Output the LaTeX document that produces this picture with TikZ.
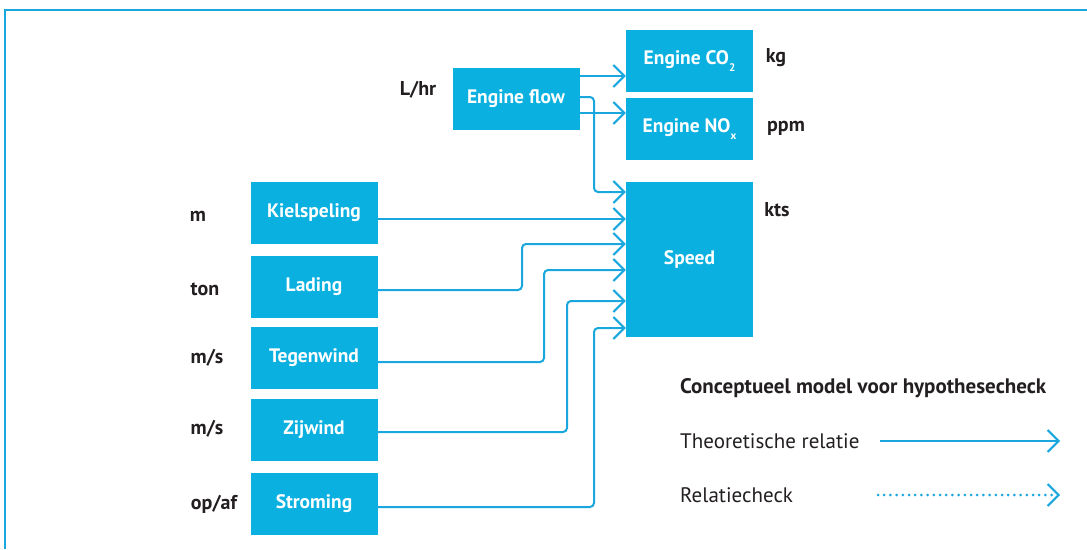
\documentclass[tikz,border=0pt]{standalone}
\usepackage{fontspec}
\setmainfont{PT Sans}
\usetikzlibrary{arrows.meta}
\definecolor{boxblue}{HTML}{0AB0E0}
\definecolor{lineblue}{HTML}{1AA7DE}
\definecolor{txt}{HTML}{231F20}
\newcommand{\lowsub}[1]{\raisebox{-0.35em}{\fontsize{11}{12}\selectfont #1}}
\tikzset{
  box/.style={fill=boxblue, minimum width=127pt, minimum height=62pt, inner sep=0pt, text=white, font=\bfseries\fontsize{19.5}{22}\selectfont},
  unit/.style={text=txt, font=\bfseries\fontsize{20}{23}\selectfont, inner sep=0pt},
  legtxt/.style={text=txt, font=\fontsize{21}{24}\selectfont, inner sep=0pt, anchor=west},
  conn/.style={draw=lineblue, line width=2pt, rounded corners=4pt, -{Straight Barb[length=11pt,width=22pt,line width=2pt]}},
  dotconn/.style={conn, line width=3pt, dash pattern=on 0pt off 6.2pt, line cap=round},
}
\begin{document}
\begin{tikzpicture}[x=1pt,y=-1pt]
\useasboundingbox (0,0) rectangle (1087,549);
% frame
\draw[lineblue, line width=1.5pt] (5,549) -- (5,10) -- (1087,10);
% boxes
\node[box] (flow) at (516,99) {Engine flow};
\node[box] (co2) at (689.5,61) {Engine CO\lowsub{2}};
\node[box] (nox) at (689.5,129) {Engine NO\lowsub{x}};
\node[box, minimum height=155pt] (speed) at (689.5,259.5) {Speed};
\node[box] (kiel) at (314,213) {Kielspeling};
\node[box] (lad) at (314,287) {Lading};
\node[box] (teg) at (314,358) {Tegenwind};
\node[box] (zij) at (314,430) {Zijwind};
\node[box] (str) at (314,504) {Stroming};
% units
\node[unit] (u1) at (418,90) {L/hr};
\node[unit] (u2) at (776,58) {kg};
\node[unit] (u3) at (786,128) {ppm};
\node[unit] (u4) at (777,210) {kts};
\node[unit] (u5) at (198,216) {m};
\node[unit] (u6) at (205,289) {ton};
\node[unit] (u7) at (207,358) {m/s};
\node[unit] (u8) at (207,429) {m/s};
\node[unit] (u9) at (214,504) {op/af};
% connectors
\draw[conn] (flow.east |- 0,76) -- (co2.west |- 0,76);
\draw[conn] (flow.east |- 0,113) -- (nox.west |- 0,113);
\draw[conn] (flow.east |- 0,97) -- (594,97) -- (594,192) -- (speed.west |- 0,192);
\draw[conn] (kiel.east |- 0,219) -- (speed.west |- 0,219);
\draw[conn] (lad.east |- 0,290) -- (522,290) -- (522,244) -- (speed.west |- 0,244);
\draw[conn] (teg.east |- 0,362) -- (544,362) -- (544,270) -- (speed.west |- 0,270);
\draw[conn] (zij.east |- 0,432) -- (567,432) -- (567,301) -- (speed.west |- 0,301);
\draw[conn] (str.east |- 0,507) -- (594,507) -- (594,328) -- (speed.west |- 0,328);
% legend
\node[legtxt, font=\bfseries\fontsize{21}{24}\selectfont] (lt) at (680,388) {Conceptueel model voor hypothesecheck};
\node[legtxt] (l1) at (680,441) {Theoretische relatie};
\node[legtxt] (l2) at (680,495) {Relatiecheck};
\coordinate (a1) at (880,441);
\coordinate (b1) at (1060,441);
\coordinate (a2) at (878,495);
\coordinate (b2) at (1060,495);
\draw[conn] (a1) -- (b1);
\draw[dotconn] (a2) -- (b2);
\end{tikzpicture}
\end{document}
